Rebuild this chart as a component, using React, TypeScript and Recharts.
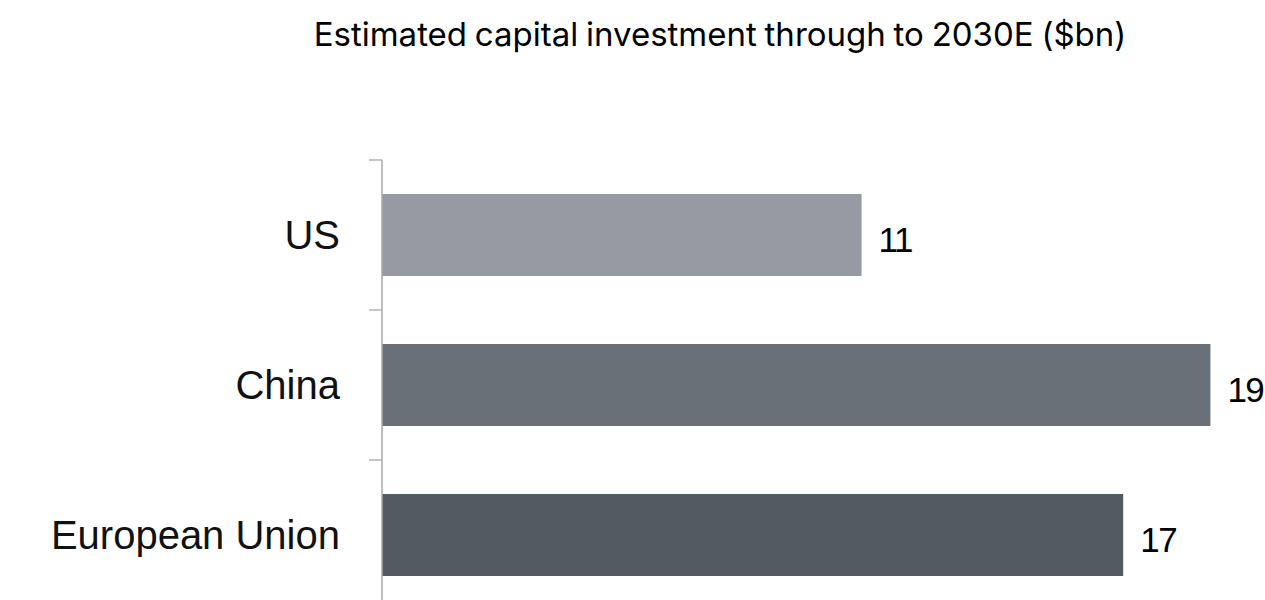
import React from 'react';
import { BarChart, Bar, XAxis, YAxis, Cell, LabelList } from 'recharts';

const categories = ['US', 'China', 'European Union'];
const investment = [11, 19, 17];
const barColors = ['#969aa2', '#6a7078', '#545a62'];

const chartData = categories.map((name, i) => ({ name, value: investment[i] }));

const FONT = '"Liberation Sans", Arial, Helvetica, sans-serif';
const TITLE_FONT = 'Inter, "Liberation Sans", Arial, sans-serif';
const AXIS_X = 382;
const BAND = 150;

// category label + tick mark sitting on the upper band boundary
const CategoryTick = (props: any) => {
  const { y, payload } = props;
  const top = y - BAND / 2;
  return (
    <g>
      <line x1={AXIS_X - 13} x2={AXIS_X} y1={top} y2={top} stroke="#b3b3b3" strokeWidth={1.5} />
      <text
        x={AXIS_X - 42}
        y={y}
        dy="0.36em"
        textAnchor="end"
        fill="#111"
        fontSize={40}
        fontFamily={FONT}
      >
        {payload.value}
      </text>
    </g>
  );
};

const ValueLabel = (props: any) => {
  const { x, y, width, height, value } = props;
  return (
    <text
      x={x + width + 17}
      y={y + height / 2 + 4}
      dy="0.36em"
      textAnchor="start"
      fill="#000"
      fontSize={35}
      letterSpacing={-1.5}
      fontFamily={FONT}
    >
      {value}
    </text>
  );
};

export default function App() {
  return (
    <div style={{ position: 'relative', width: 1265, height: 600, overflow: 'hidden', background: '#fff' }}>
      <style>{'body{margin:0;overflow:hidden}'}</style>
      <div
        style={{
          position: 'absolute',
          left: 720,
          top: 18,
          transform: 'translateX(-50%)',
          whiteSpace: 'nowrap',
          fontFamily: TITLE_FONT,
          fontSize: 33,
          lineHeight: '33px',
          letterSpacing: 0,
          wordSpacing: -1.5,
          color: '#000',
        }}
      >
        Estimated capital investment through to 2030E ($bn)
      </div>
      <div style={{ position: 'absolute', left: 0, top: 0 }}>
        <BarChart
          width={1265}
          height={610}
          data={chartData}
          layout="vertical"
          margin={{ top: 160, right: 11, bottom: 0, left: AXIS_X - 60 }}
          barSize={82}
        >
          <XAxis type="number" domain={[0, 20]} hide />
          <YAxis
            type="category"
            dataKey="name"
            width={60}
            axisLine={{ stroke: '#a8a8a8', strokeWidth: 1.5 }}
            tickLine={false}
            tick={<CategoryTick />}
            interval={0}
          />
          <Bar dataKey="value" isAnimationActive={false}>
            {chartData.map((entry, index) => (
              <Cell key={`cell-${index}`} fill={barColors[index]} />
            ))}
            <LabelList dataKey="value" content={<ValueLabel />} />
          </Bar>
        </BarChart>
      </div>
    </div>
  );
}
